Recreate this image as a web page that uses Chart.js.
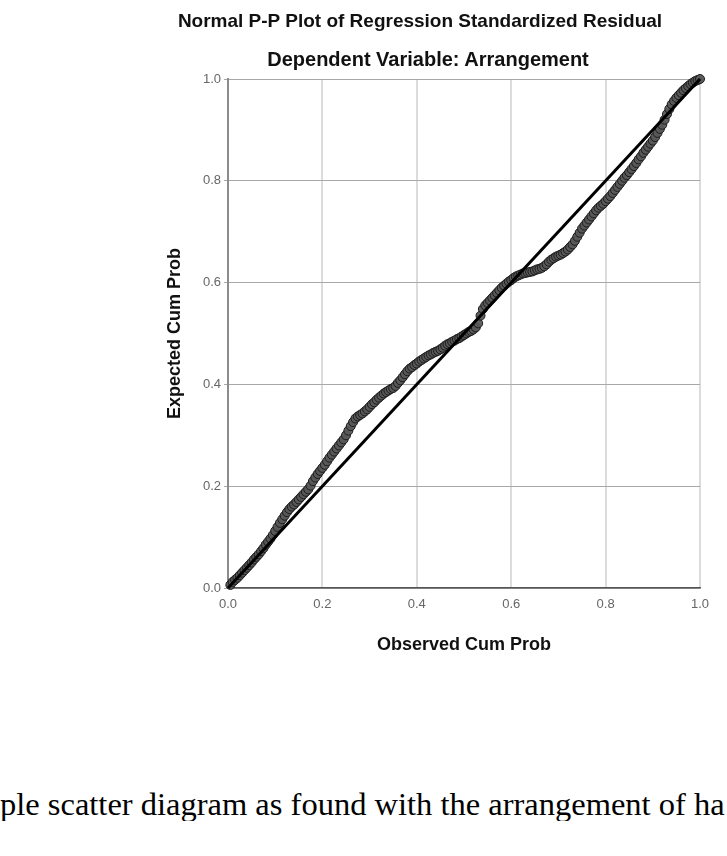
<!DOCTYPE html>
<html>
<head>
<meta charset="utf-8">
<script src="https://cdn.jsdelivr.net/npm/chart.js@4.4.1/dist/chart.umd.min.js"></script>
<style>
  body { margin: 0; background: #fff; }
  #page { position: relative; width: 727px; height: 856px; overflow: hidden; background: #fff; }
  #ppChart { position: absolute; left: 0; top: 0; }
  .head { position: absolute; width: 600px; text-align: center; white-space: nowrap;
          font-family: "Liberation Sans", Arial, sans-serif; font-weight: bold; color: #111; line-height: 1; }
  #title { left: 120px; top: 11px; font-size: 19px; }
  #subtitle { left: 128px; top: 49px; font-size: 20px; }
  #caption { position: absolute; left: 0; top: 788px; width: 727px; white-space: nowrap; overflow: hidden;
             font-family: "Liberation Serif", "Times New Roman", serif; font-size: 32.5px; color: #000; line-height: 1; }
</style>
</head>
<body>
<div id="page">
  <canvas id="ppChart" width="727" height="700"></canvas>
  <div id="title" class="head">Normal P-P Plot of Regression Standardized Residual</div>
  <div id="subtitle" class="head">Dependent Variable: Arrangement</div>
  <div id="caption">ple scatter diagram as found with the arrangement of ha</div>
</div>
<script>
// observed vs expected cumulative probabilities
const observedProb = [
  0.005, 0.010, 0.015, 0.020, 0.025, 0.030, 0.035, 0.040, 0.045, 0.050,
  0.055, 0.060, 0.065, 0.070, 0.075, 0.080, 0.085, 0.090, 0.095, 0.100,
  0.105, 0.110, 0.115, 0.120, 0.125, 0.130, 0.135, 0.140, 0.145, 0.150,
  0.155, 0.160, 0.165, 0.170, 0.175, 0.180, 0.185, 0.190, 0.195, 0.200,
  0.205, 0.210, 0.215, 0.220, 0.225, 0.230, 0.235, 0.240, 0.245, 0.250,
  0.255, 0.260, 0.265, 0.270, 0.275, 0.280, 0.285, 0.290, 0.295, 0.300,
  0.305, 0.310, 0.315, 0.320, 0.325, 0.330, 0.335, 0.340, 0.345, 0.350,
  0.355, 0.360, 0.365, 0.370, 0.375, 0.380, 0.385, 0.390, 0.395, 0.400,
  0.405, 0.410, 0.415, 0.420, 0.425, 0.430, 0.435, 0.440, 0.445, 0.450,
  0.455, 0.460, 0.465, 0.470, 0.475, 0.480, 0.485, 0.490, 0.495, 0.500,
  0.505, 0.510, 0.515, 0.520, 0.525, 0.530, 0.535, 0.540, 0.545, 0.550,
  0.555, 0.560, 0.565, 0.570, 0.575, 0.580, 0.585, 0.590, 0.595, 0.600,
  0.605, 0.610, 0.615, 0.620, 0.625, 0.630, 0.635, 0.640, 0.645, 0.650,
  0.655, 0.660, 0.665, 0.670, 0.675, 0.680, 0.685, 0.690, 0.695, 0.700,
  0.705, 0.710, 0.715, 0.720, 0.725, 0.730, 0.735, 0.740, 0.745, 0.750,
  0.755, 0.760, 0.765, 0.770, 0.775, 0.780, 0.785, 0.790, 0.795, 0.800,
  0.805, 0.810, 0.815, 0.820, 0.825, 0.830, 0.835, 0.840, 0.845, 0.850,
  0.855, 0.860, 0.865, 0.870, 0.875, 0.880, 0.885, 0.890, 0.895, 0.900,
  0.905, 0.910, 0.915, 0.920, 0.925, 0.930, 0.935, 0.940, 0.945, 0.950,
  0.955, 0.960, 0.965, 0.970, 0.975, 0.980, 0.985, 0.990, 0.995, 1.000
];
const expectedProb = [
  0.006, 0.012, 0.016, 0.020, 0.025, 0.030, 0.035, 0.040, 0.045, 0.050,
  0.056, 0.061, 0.066, 0.072, 0.078, 0.085, 0.091, 0.097, 0.104, 0.112,
  0.120, 0.128, 0.135, 0.142, 0.149, 0.155, 0.160, 0.164, 0.169, 0.174,
  0.179, 0.184, 0.189, 0.194, 0.201, 0.210, 0.217, 0.224, 0.230, 0.236,
  0.242, 0.249, 0.256, 0.262, 0.268, 0.274, 0.280, 0.286, 0.292, 0.300,
  0.309, 0.318, 0.326, 0.333, 0.337, 0.340, 0.343, 0.347, 0.351, 0.356,
  0.361, 0.365, 0.370, 0.374, 0.378, 0.382, 0.385, 0.388, 0.391, 0.393,
  0.397, 0.403, 0.408, 0.414, 0.420, 0.426, 0.431, 0.434, 0.438, 0.441,
  0.445, 0.448, 0.451, 0.454, 0.457, 0.459, 0.462, 0.464, 0.466, 0.469,
  0.472, 0.476, 0.479, 0.481, 0.484, 0.486, 0.489, 0.491, 0.494, 0.497,
  0.500, 0.503, 0.505, 0.508, 0.512, 0.520, 0.535, 0.548, 0.555, 0.560,
  0.565, 0.570, 0.575, 0.580, 0.585, 0.590, 0.594, 0.598, 0.602, 0.605,
  0.609, 0.612, 0.614, 0.616, 0.618, 0.619, 0.620, 0.621, 0.622, 0.624,
  0.626, 0.627, 0.629, 0.632, 0.636, 0.641, 0.645, 0.648, 0.651, 0.653,
  0.655, 0.658, 0.661, 0.665, 0.670, 0.675, 0.682, 0.690, 0.698, 0.706,
  0.712, 0.718, 0.724, 0.730, 0.736, 0.742, 0.747, 0.751, 0.755, 0.760,
  0.765, 0.770, 0.776, 0.782, 0.788, 0.794, 0.800, 0.806, 0.811, 0.817,
  0.823, 0.829, 0.835, 0.842, 0.848, 0.855, 0.861, 0.867, 0.873, 0.879,
  0.886, 0.894, 0.902, 0.910, 0.920, 0.931, 0.941, 0.950, 0.957, 0.963,
  0.968, 0.973, 0.978, 0.982, 0.986, 0.990, 0.993, 0.996, 0.998, 1.000
];
// reference diagonal
const refLineX = [0, 1];
const refLineY = [0, 1];
const tickValues = [0, 0.2, 0.4, 0.6, 0.8, 1.0];

const ppPoints = observedProb.map((x, i) => ({ x: x, y: expectedProb[i] }));
const refPoints = refLineX.map((x, i) => ({ x: x, y: refLineY[i] }));

const tickFont = { family: '"Liberation Sans", Arial, sans-serif', size: 13 };
const titleFont = { family: '"Liberation Sans", Arial, sans-serif', size: 18, weight: 'bold' };

const ctx = document.getElementById('ppChart').getContext('2d');
new Chart(ctx, {
  type: 'scatter',
  data: {
    datasets: [
      {
        label: 'Diagonal',
        type: 'line',
        data: refPoints,
        borderColor: '#000',
        borderWidth: 3,
        pointRadius: 0,
        fill: false,
        order: 0,
        clip: false,
      },
      {
        label: 'Residuals',
        data: ppPoints,
        pointRadius: 4.5,
        backgroundColor: 'rgba(88, 88, 88, 0.95)',
        borderColor: '#1a1a1a',
        borderWidth: 1,
        order: 1,
        clip: false,
      }
    ]
  },
  options: {
    responsive: false,
    animation: false,
    layout: { padding: { left: 160, right: 27, top: 79, bottom: 40 } },
    plugins: {
      legend: { display: false },
      tooltip: { enabled: false },
    },
    scales: {
      x: {
        type: 'linear',
        min: 0,
        max: 1,
        afterBuildTicks: (scale) => { scale.ticks = tickValues.map(v => ({ value: v })); },
        afterFit: (scale) => { scale.height = 72; },
        ticks: {
          callback: (v) => Number(v).toFixed(1),
          font: tickFont,
          color: '#666',
          padding: 9,
          maxRotation: 0,
        },
        grid: { color: '#dcdcdc', lineWidth: 2, drawTicks: false },
        border: { color: '#555', width: 1.5 },
        title: { display: true, text: 'Observed Cum Prob', font: titleFont, color: '#111', padding: { top: 4, bottom: 4 } },
      },
      y: {
        type: 'linear',
        min: 0,
        max: 1,
        afterBuildTicks: (scale) => { scale.ticks = tickValues.map(v => ({ value: v })); },
        afterFit: (scale) => { scale.width = 68; },
        ticks: {
          callback: (v) => Number(v).toFixed(1),
          font: tickFont,
          color: '#666',
          padding: 3,
        },
        grid: { color: '#a8a8a8', lineWidth: 1, tickLength: 4 },
        border: { color: '#8c8c8c', width: 2 },
        title: { display: true, text: 'Expected Cum Prob', font: titleFont, color: '#111', padding: { top: 4, bottom: 4 } },
      }
    }
  }
});
</script>
</body>
</html>
